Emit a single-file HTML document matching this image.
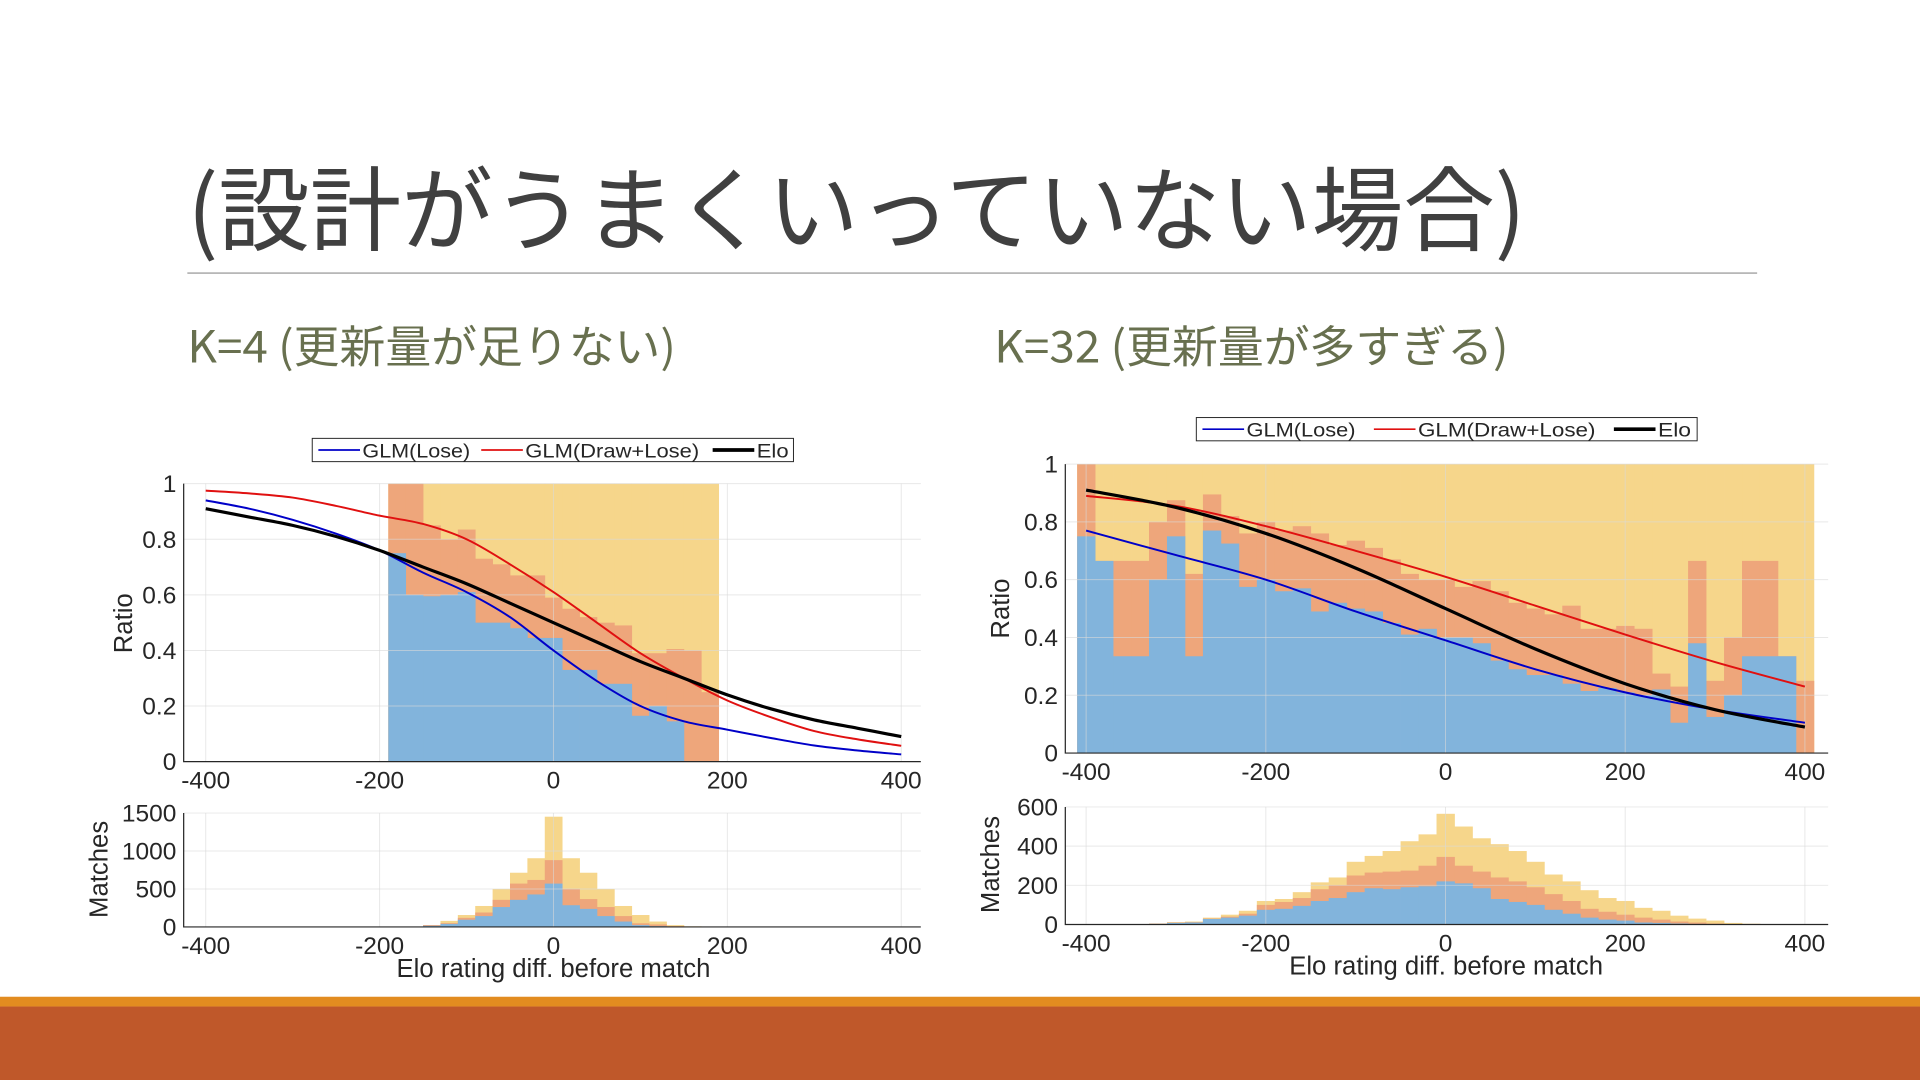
<!DOCTYPE html>
<html><head><meta charset="utf-8"><style>
html,body{margin:0;padding:0;background:#fff;width:1920px;height:1080px;overflow:hidden}
svg{display:block}
text{font-family:"Liberation Sans","Noto Sans CJK JP",sans-serif}
</style></head><body>
<svg id="slide" width="1920" height="1080" viewBox="0 0 1568 882" xmlns="http://www.w3.org/2000/svg">
<text x="153" y="199" font-size="75" fill="#404040" textLength="1093" lengthAdjust="spacingAndGlyphs" style='font-family:"Noto Sans CJK JP",sans-serif'>(設計がうまくいっていない場合)</text>
<line x1="153" y1="223" x2="1435" y2="223" stroke="#8c8c8c" stroke-width="1"/>
<text x="153" y="296" font-size="36" fill="#68704f" textLength="399" lengthAdjust="spacingAndGlyphs" style='font-family:"Noto Sans CJK JP",sans-serif'>K=4 (更新量が足りない)</text>
<text x="812" y="296" font-size="36" fill="#68704f" textLength="420" lengthAdjust="spacingAndGlyphs" style='font-family:"Noto Sans CJK JP",sans-serif'>K=32 (更新量が多すぎる)</text>
<g id="charts"></g>
<rect x="0" y="814" width="1568" height="8" fill="#e28c20"/>
<rect x="0" y="822" width="1568" height="60" fill="#bf582a"/>
</svg>
<script>
// ---- K=4 data ----
const leftRatioBins = [-180,-160,-140,-120,-100,-80,-60,-40,-20,0,20,40,60,80,100,120,140,160,180];
const leftRatioLose = [0.75,0.6,0.595,0.6,0.61,0.5,0.5,0.48,0.445,0.445,0.33,0.33,0.28,0.28,0.165,0.2,0.145,0,0];
const leftRatioDrawLose = [1,1,0.85,0.8,0.835,0.73,0.71,0.67,0.67,0.59,0.55,0.52,0.5,0.49,0.39,0.39,0.405,0.4,0.25];
const leftRatioTotal = [1,1,1,1,1,1,1,1,1,1,1,1,1,1,1,1,1,1,1];
const leftCountBins = [-180,-160,-140,-120,-100,-80,-60,-40,-20,0,20,40,60,80,100,120,140,160,180];
const leftCountTotal = [2,5,25,80,157,276,500,714,905,1452,905,714,500,276,157,71,24,8,3];
const leftCountDrawLose = [1,3,25,50,120,190,357,571,619,880,500,367,262,143,48,33,10,3,1];
const leftCountLose = [1,2,15,40,95,143,262,357,428,571,286,238,143,71,24,10,5,0,0];
const leftCurveX = [-400,-350,-300,-250,-200,-150,-100,-50,0,50,100,150,200,250,300,350,400];
const leftGlmLose = [0.94,0.91,0.87,0.82,0.76,0.68,0.61,0.52,0.40,0.29,0.20,0.145,0.115,0.085,0.058,0.04,0.026];
const leftGlmDrawLose = [0.975,0.965,0.95,0.92,0.885,0.855,0.8,0.71,0.61,0.5,0.39,0.3,0.22,0.16,0.11,0.08,0.057];
const leftElo = [0.91,0.88,0.85,0.81,0.76,0.70,0.64,0.57,0.5,0.43,0.36,0.30,0.24,0.19,0.15,0.12,0.09];
// ---- K=32 data ----
const rightRatioBins = [-400,-380,-360,-340,-320,-300,-280,-260,-240,-220,-200,-180,-160,-140,-120,-100,-80,-60,-40,-20,0,20,40,60,80,100,120,140,160,180,200,220,240,260,280,300,320,340,360,380,400];
const rightRatioLose = [0.75,0.665,0.335,0.335,0.6,0.75,0.335,0.77,0.725,0.575,0.6,0.56,0.57,0.49,0.52,0.5,0.49,0.45,0.41,0.43,0.4,0.4,0.38,0.32,0.29,0.27,0.27,0.24,0.215,0.225,0.21,0.2,0.22,0.105,0.38,0.125,0.2,0.335,0.335,0.335,0];
const rightRatioDrawLose = [1,0.665,0.665,0.665,0.8,0.875,0.62,0.895,0.82,0.76,0.8,0.77,0.785,0.76,0.72,0.735,0.71,0.67,0.62,0.6,0.6,0.575,0.595,0.56,0.52,0.5,0.48,0.51,0.43,0.43,0.44,0.43,0.275,0.23,0.665,0.25,0.4,0.665,0.665,0.335,0.25];
const rightRatioTotal = [1,1,1,1,1,1,1,1,1,1,1,1,1,1,1,1,1,1,1,1,1,1,1,1,1,1,1,1,1,1,1,1,1,1,1,1,1,1,1,1,1];
const rightCountBins = rightRatioBins.slice();
const rightCountTotal = [1,1,1,1,5,12,15,35,50,70,120,130,165,215,240,320,350,375,425,460,565,500,440,410,375,320,255,220,175,135,120,85,70,45,30,20,8,4,2,2,2];
const rightCountDrawLose = [1,1,1,1,4,10,12,30,40,55,100,115,135,180,200,250,265,270,275,300,345,300,270,240,220,190,155,120,80,65,50,35,25,15,10,5,2,1,1,1,1];
const rightCountLose = [0,0,0,1,3,8,10,28,35,45,75,80,95,120,135,165,185,180,190,195,220,210,185,130,115,100,75,55,35,25,20,10,8,5,3,1,0,0,0,0,0];
const rightCurveX = [-400,-300,-200,-100,0,100,200,300,400];
const rightGlmLose = [0.77,0.685,0.6,0.49,0.39,0.29,0.21,0.15,0.105];
const rightGlmDrawLose = [0.89,0.855,0.785,0.70,0.61,0.51,0.41,0.315,0.23];
const rightElo = [0.91,0.85,0.76,0.64,0.5,0.36,0.24,0.15,0.09];
// ---- ticks ----
const xTicks = [-400,-200,0,200,400];
const xTickLabels = ["-400","-200","0","200","400"];
const ratioTicks = [0,0.2,0.4,0.6,0.8,1];
const ratioTickLabels = ["0","0.2","0.4","0.6","0.8","1"];
const leftCountTicks = [0,500,1000,1500];
const leftCountTickLabels = ["0","500","1000","1500"];
const rightCountTicks = [0,200,400,600];
const rightCountTickLabels = ["0","200","400","600"];

const NS = "http://www.w3.org/2000/svg";
const root = document.getElementById('charts');
function mk(tag, attrs, parent){const e=document.createElementNS(NS,tag);for(const k in attrs)e.setAttribute(k,attrs[k]);(parent||root).appendChild(e);return e;}
function lin(d0,d1,r0,r1){return v=>r0+(v-d0)*(r1-r0)/(d1-d0);}

function axes(g, X, Y, box, yTicks, yLabels, yMax, name){
  xTicks.forEach(t=>{const l=mk('line',{x1:X(t),x2:X(t),y1:box.t,y2:box.b,stroke:'#d8d8d8','stroke-width':0.8,'stroke-opacity':0.6},g);
    
    });
  yTicks.forEach(t=>{const l=mk('line',{x1:box.l,x2:box.r,y1:Y(t),y2:Y(t),stroke:'#d8d8d8','stroke-width':0.8,'stroke-opacity':0.6},g);
    
    });
  const ax=mk('path',{d:`M${box.l},${box.t}V${box.b}H${box.r}`,fill:'none',stroke:'#262626','stroke-width':1},g);
  
  
  xTicks.forEach((t,i)=>{const tx=mk('text',{x:X(t),y:box.b+22,'font-size':20,fill:'#262626','text-anchor':'middle'},g);tx.textContent=xTickLabels[i];
    
    });
  yTicks.forEach((t,i)=>{const tx=mk('text',{x:box.l-6,y:Y(t)+7,'font-size':20,fill:'#262626','text-anchor':'end'},g);tx.textContent=yLabels[i];
    
    });
}
function hist(g, X, Y, bins, total, dl, lose, name){
  const w=20;
  [[total,'#f6d68b','total'],[dl,'#eea67b','draw-lose'],[lose,'#82b4dc','lose']].forEach(([arr,col,nm])=>{
    bins.forEach((c,i)=>{ if(arr[i]<=0) return;
      const x0=X(c-w/2), x1=X(c+w/2), y=Y(arr[i]);
      const r=mk('rect',{x:x0,y:y,width:x1-x0+0.3,height:Y(0)-y,fill:col},g);
      
      
    });
  });
}
function curve(g,X,Y,xs,ys,col,wid,name){
  const P=xs.map((x,i)=>[X(x),Y(ys[i])]);
  let d=`M${P[0][0]},${P[0][1]}`;
  for(let i=0;i<P.length-1;i++){
    const p0=P[Math.max(0,i-1)],p1=P[i],p2=P[i+1],p3=P[Math.min(P.length-1,i+2)];
    const c1=[p1[0]+(p2[0]-p0[0])/6,p1[1]+(p2[1]-p0[1])/6];
    const c2=[p2[0]-(p3[0]-p1[0])/6,p2[1]-(p3[1]-p1[1])/6];
    d+=`C${c1[0]},${c1[1]} ${c2[0]},${c2[1]} ${p2[0]},${p2[1]}`;
  }
  const p=mk('path',{d:d,fill:'none',stroke:col,'stroke-width':wid,'stroke-linejoin':'round'},g);
  
  
}
function legend(g,x,y,w,pos,name){
  const r=mk('rect',{x:x,y:y,width:w,height:19,fill:'#fff',stroke:'#262626','stroke-width':0.8},g);
  
  
  const items=[['GLM(Lose)','#0000c8',1.4],['GLM(Draw+Lose)','#e01010',1.4],['Elo','#000',3]];
  items.forEach((it,i)=>{const p=pos[i];
    const l=mk('line',{x1:p[0],x2:p[0]+34,y1:y+9.5,y2:y+9.5,stroke:it[1],'stroke-width':it[2]},g);
    
    
    const t=mk('text',{x:p[0]+36,y:y+15.5,'font-size':16,fill:'#262626',textLength:p[1],lengthAdjust:'spacingAndGlyphs'},g);t.textContent=it[0];
    
    
  });
}
function ylabel(g,x,y,txt,name){const t=mk('text',{x:x,y:y,'font-size':21,fill:'#262626','text-anchor':'middle',transform:`rotate(-90 ${x} ${y})`},g);t.textContent=txt;
  
  }
function xlabel(g,x,y,txt,name){const t=mk('text',{x:x,y:y,'font-size':21,fill:'#262626','text-anchor':'middle'},g);t.textContent=txt;
  
  }

// LEFT
const gL=mk('g',{});


{
  const X=lin(-400,400,168,736), Y=lin(0,1,622,395), box={l:150,r:752,t:395,b:622};
  hist(gL,X,Y,leftRatioBins,leftRatioTotal,leftRatioDrawLose,leftRatioLose,'k4-ratio');
  axes(gL,X,Y,box,ratioTicks,ratioTickLabels,1,'k4-ratio');
  curve(gL,X,Y,leftCurveX,leftGlmLose,'#0000c8',1.6,'k4-glm-lose-line');
  curve(gL,X,Y,leftCurveX,leftGlmDrawLose,'#e01010',1.6,'k4-glm-draw-lose-line');
  curve(gL,X,Y,leftCurveX,leftElo,'#000',2.6,'k4-elo-line');
  ylabel(gL,108,509,'Ratio','k4-ratio-y-title');
  const Y2=lin(0,1500,757,664), box2={l:150,r:752,t:664,b:757};
  hist(gL,X,Y2,leftCountBins,leftCountTotal,leftCountDrawLose,leftCountLose,'k4-count');
  axes(gL,X,Y2,box2,leftCountTicks,leftCountTickLabels,1500,'k4-count');
  ylabel(gL,88,710,'Matches','k4-count-y-title');
  xlabel(gL,452,798,'Elo rating diff. before match','k4-x-title');
  legend(gL,255,358,393,[[260,88],[393,142],[582,26]],'k4-legend');
}
// RIGHT
const gR=mk('g',{});


{
  const X=lin(-400,400,887,1474), Y=lin(0,1,615,379), box={l:870,r:1493,t:379,b:615};
  hist(gR,X,Y,rightRatioBins,rightRatioTotal,rightRatioDrawLose,rightRatioLose,'k32-ratio');
  axes(gR,X,Y,box,ratioTicks,ratioTickLabels,1,'k32-ratio');
  curve(gR,X,Y,rightCurveX,rightGlmLose,'#0000c8',1.6,'k32-glm-lose-line');
  curve(gR,X,Y,rightCurveX,rightGlmDrawLose,'#e01010',1.6,'k32-glm-draw-lose-line');
  curve(gR,X,Y,rightCurveX,rightElo,'#000',2.6,'k32-elo-line');
  ylabel(gR,824,497,'Ratio','k32-ratio-y-title');
  const Y2=lin(0,600,755,659), box2={l:870,r:1493,t:659,b:755};
  hist(gR,X,Y2,rightCountBins,rightCountTotal,rightCountDrawLose,rightCountLose,'k32-count');
  axes(gR,X,Y2,box2,rightCountTicks,rightCountTickLabels,600,'k32-count');
  ylabel(gR,816,706,'Matches','k32-count-y-title');
  xlabel(gR,1181,796,'Elo rating diff. before match','k32-x-title');
  legend(gR,977,341,409,[[982,89],[1122,145],[1318,27]],'k32-legend');
}
</script>
</body></html>
